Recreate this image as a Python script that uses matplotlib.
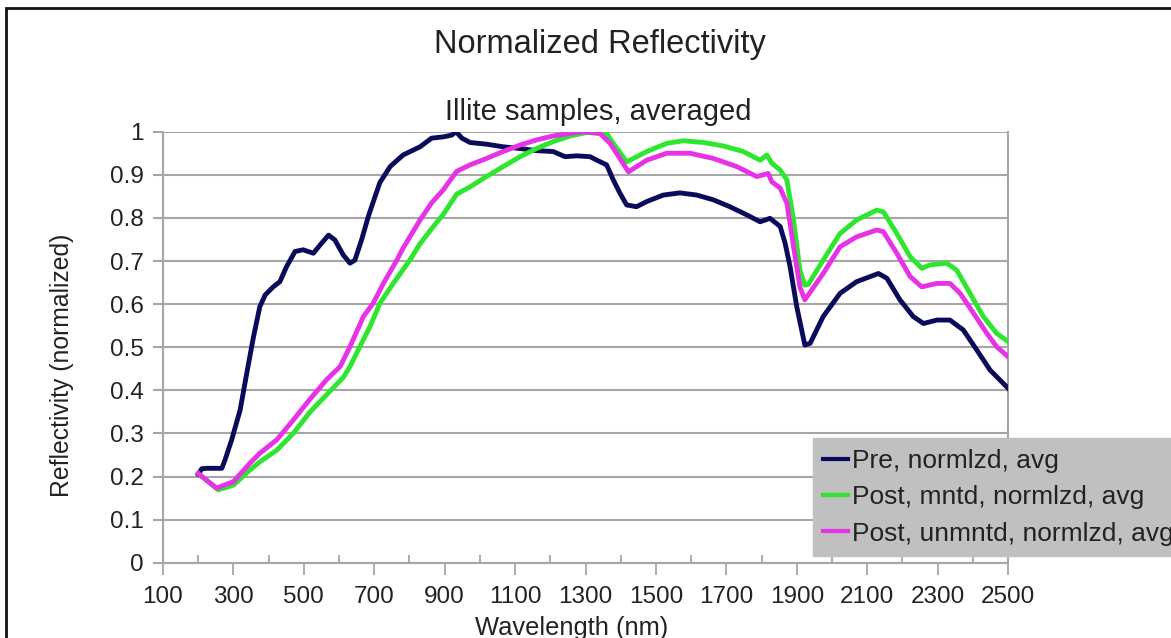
import matplotlib
matplotlib.use('Agg')
import matplotlib.pyplot as plt
from matplotlib.patches import Rectangle

plt.rcParams['font.family'] = ['Liberation Sans', 'DejaVu Sans']

# Pre, normalized, averaged
pre_wl = [200, 210, 224, 267, 276, 295, 319, 338, 357, 375, 390, 413, 432, 451,
          475, 498, 527, 546, 570, 588, 612, 631, 645, 664, 683, 702, 716, 745,
          782, 830, 863, 896, 920, 932, 949, 972, 1019, 1066, 1114, 1161, 1208,
          1242, 1275, 1313, 1332, 1360, 1379, 1398, 1417, 1445, 1474, 1521, 1568,
          1616, 1663, 1710, 1758, 1796, 1824, 1853, 1867, 1881, 1900, 1923, 1938,
          1975, 2023, 2070, 2132, 2156, 2193, 2231, 2260, 2298, 2335, 2373, 2411,
          2449, 2477, 2500]
pre_val = [0.205, 0.218, 0.219, 0.219, 0.238, 0.285, 0.354, 0.44, 0.524, 0.594,
           0.621, 0.64, 0.652, 0.687, 0.722, 0.726, 0.718, 0.737, 0.76, 0.749,
           0.714, 0.695, 0.702, 0.749, 0.803, 0.849, 0.882, 0.919, 0.946, 0.965,
           0.985, 0.988, 0.992, 1.0, 0.985, 0.975, 0.971, 0.965, 0.961, 0.956,
           0.954, 0.942, 0.944, 0.942, 0.934, 0.923, 0.888, 0.857, 0.83, 0.826,
           0.838, 0.853, 0.858, 0.853, 0.842, 0.826, 0.807, 0.791, 0.799, 0.78,
           0.741, 0.687, 0.594, 0.505, 0.509, 0.571, 0.625, 0.652, 0.671, 0.66,
           0.61, 0.571, 0.555, 0.563, 0.563, 0.54, 0.494, 0.447, 0.424, 0.405]

# Post, mounted, normalized, averaged
mnt_wl = [200, 257, 300, 347, 375, 423, 470, 518, 565, 612, 631, 659, 688, 716,
          754, 801, 830, 863, 896, 934, 972, 1019, 1066, 1114, 1161, 1208, 1256,
          1303, 1360, 1379, 1417, 1474, 1531, 1578, 1635, 1691, 1748, 1796, 1815,
          1829, 1853, 1872, 1891, 1909, 1923, 1933, 1975, 2023, 2070, 2127, 2146,
          2184, 2222, 2255, 2279, 2326, 2354, 2392, 2430, 2468, 2500]
mnt_val = [0.207, 0.169, 0.18, 0.215, 0.234, 0.261, 0.3, 0.35, 0.39, 0.43,
           0.455, 0.501, 0.548, 0.602, 0.648, 0.702, 0.74, 0.775, 0.808, 0.855,
           0.872, 0.896, 0.919, 0.942, 0.961, 0.977, 0.99, 0.998, 0.996, 0.973,
           0.93, 0.954, 0.973, 0.979, 0.975, 0.967, 0.954, 0.934, 0.946, 0.927,
           0.911, 0.888, 0.795, 0.679, 0.644, 0.646, 0.702, 0.764, 0.795, 0.818,
           0.814, 0.764, 0.71, 0.683, 0.691, 0.695, 0.679, 0.625, 0.571, 0.532,
           0.513]

# Post, unmounted, normalized, averaged
unm_wl = [200, 252, 300, 347, 375, 423, 470, 518, 565, 603, 631, 669, 697, 726,
          764, 782, 830, 863, 896, 934, 972, 1019, 1066, 1114, 1161, 1208, 1256,
          1294, 1341, 1370, 1422, 1474, 1531, 1597, 1663, 1730, 1786, 1819, 1829,
          1853, 1872, 1891, 1909, 1923, 1975, 2023, 2070, 2127, 2146, 2184, 2222,
          2255, 2298, 2335, 2364, 2402, 2440, 2468, 2500]
unm_val = [0.207, 0.173, 0.188, 0.231, 0.254, 0.285, 0.331, 0.38, 0.425, 0.455,
           0.501, 0.571, 0.602, 0.648, 0.702, 0.73, 0.795, 0.835, 0.865, 0.908,
           0.923, 0.938, 0.954, 0.969, 0.981, 0.99, 0.996, 1.0, 0.996, 0.973,
           0.907, 0.934, 0.95, 0.95, 0.938, 0.919, 0.896, 0.903, 0.884, 0.869,
           0.834, 0.733, 0.64, 0.61, 0.671, 0.733, 0.756, 0.772, 0.768, 0.718,
           0.664, 0.64, 0.648, 0.648, 0.625, 0.579, 0.532, 0.501, 0.478]

series_labels = ['Pre, normlzd, avg', 'Post, mntd, normlzd, avg',
                 'Post, unmntd, normlzd, avg']
x_ticks = list(range(100, 2501, 200))
x_minor_ticks = list(range(200, 2500, 200))
y_ticks = [0, 0.1, 0.2, 0.3, 0.4, 0.5, 0.6, 0.7, 0.8, 0.9, 1]
y_tick_labels = ['0', '0.1', '0.2', '0.3', '0.4', '0.5', '0.6', '0.7', '0.8', '0.9', '1']

W, H = 1171, 638
fig = plt.figure(figsize=(W / 100, H / 100), dpi=100)
ax = fig.add_axes([163 / W, 1 - 562.7 / H, 845 / W, 431 / H])

grey = '#a6a6a6'
ax.plot(pre_wl, pre_val, color='#0b0b5c', lw=3.5, label=series_labels[0], zorder=3)
ax.plot(mnt_wl, mnt_val, color='#2ee62e', lw=3.5, label=series_labels[1], zorder=3)
ax.plot(unm_wl, unm_val, color='#e633e6', lw=3.5, label=series_labels[2], zorder=3)

ax.set_xlim(100, 2500)
ax.set_ylim(0, 1)
ax.set_xticks(x_ticks)
ax.set_xticks(x_minor_ticks, minor=True)
ax.set_yticks(y_ticks)
ax.set_yticklabels(y_tick_labels)

ax.grid(axis='y', color=grey, lw=1.5, zorder=1)
ax.set_axisbelow(True)
for side in ['left', 'right', 'bottom']:
    ax.spines[side].set_color(grey)
    ax.spines[side].set_linewidth(1.5)
ax.spines['top'].set_visible(False)

ax.tick_params(axis='x', which='major', direction='out', length=8.5, width=1.3,
               color=grey, labelsize=17.5, labelcolor='#222222', pad=8)
ax.tick_params(axis='x', which='minor', direction='in', length=6, width=1.3, color=grey)
ax.tick_params(axis='y', which='major', direction='out', length=7, width=1.5,
               color=grey, labelsize=17.5, labelcolor='#222222', pad=7)

fig.text(599.5 / W, 1 - 53 / H, 'Normalized Reflectivity', fontsize=23.5,
         ha='center', va='baseline', color='#222222')
fig.text(598 / W, 1 - 120.5 / H, 'Illite samples, averaged', fontsize=21,
         ha='center', va='baseline', color='#222222')
fig.text(62 / W, 1 - 365 / H, 'Reflectivity (normalized)', fontsize=17.8,
         rotation=90, ha='center', va='center', color='#222222')
fig.text(571.5 / W, 1 - 635 / H, 'Wavelength (nm)', fontsize=18.4,
         ha='center', va='baseline', color='#222222')

leg = fig.legend(loc='upper left', bbox_to_anchor=(812.7 / W, 1 - 438.3 / H),
                 bbox_transform=fig.transFigure, fontsize=19, frameon=True,
                 fancybox=False, framealpha=1, facecolor='#c0c0c0',
                 edgecolor='#c0c0c0', borderaxespad=0, borderpad=0.4,
                 handlelength=0.95, handletextpad=0.15, labelspacing=0.47)
for line in leg.get_lines():
    line.set_linewidth(3)
for t in leg.get_texts():
    t.set_color('#222222')

# outer frame of the picture
fig.patches.append(Rectangle((6 / W, -0.1), 2, 1.1 - 8 / H, transform=fig.transFigure,
                             fill=False, edgecolor='#111111', lw=2, clip_on=False))

fig.savefig('out.png', dpi=100)
